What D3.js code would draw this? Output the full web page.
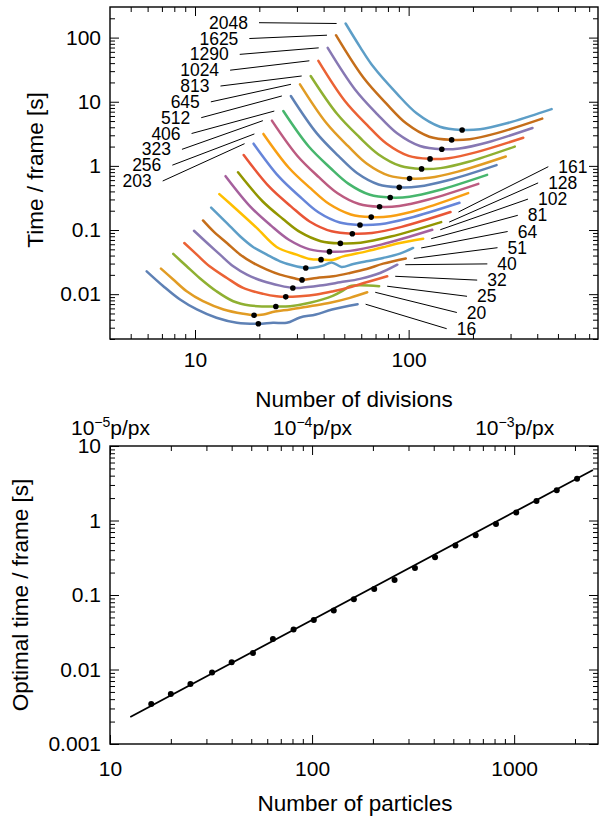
<!DOCTYPE html>
<html><head><meta charset="utf-8">
<script src="https://cdn.jsdelivr.net/npm/d3@7"></script>
<style>body{margin:0;background:#fff}svg text{font-family:"Liberation Sans",Arial,sans-serif;fill:#000}</style>
</head><body><svg id="c" width="602" height="818"></svg>
<script>
// ---------- data ----------
const particleCounts=[16,20,25,32,40,51,64,81,102,128,161,203,256,323,406,512,645,813,1024,1290,1625,2048];
const palette=["#5E81B5","#E19C24","#8FB032","#EB6235","#8778B3","#C56E1A","#5D9EC7","#FFBF00","#A5609D","#929600","#E95536","#6685D9","#F89F13","#BC5B80","#47B66D"];

const div16=[5.94,7.11,8.51,10.2,12.6,15.7,19.8,23.2,26.9,31.0,36.8,43.8,57.7];
const time16=[0.0227,0.0133,0.00824,0.00577,0.00428,0.00358,0.00345,0.00358,0.00358,0.00433,0.00482,0.00577,0.00697];
const div20=[6.93,7.91,9.14,10.9,13.6,16.8,18.9,20.9,23.7,27.9,34.5,42.9,53.1,64.0];
const time20=[0.0250,0.0169,0.0111,0.00776,0.00577,0.00494,0.0047,0.00482,0.00536,0.00577,0.00649,0.00733,0.00875,0.0107];
const div25=[7.91,9.14,10.5,12.6,15.1,18.1,23.9,27.9,34.5,44.4,49.4,53.1,72.8];
const time25=[0.0424,0.0272,0.0179,0.0111,0.00776,0.00665,0.00641,0.00649,0.00733,0.0095,0.0114,0.0133,0.0133];
const div32=[8.91,10.2,11.7,14.1,16.8,20.9,24.1,26.6,31.0,37.1,44.4,53.1,63.5,79.4];
const time32=[0.0628,0.0413,0.0272,0.0179,0.0125,0.0101,0.00927,0.00908,0.00927,0.00986,0.0111,0.0128,0.0153,0.0190];
const div40=[9.89,11.4,13.1,15.1,17.5,20.9,25.0,28.7,31.0,38.5,47.8,59.2,73.5,88.5];
const time40=[0.0975,0.0628,0.0413,0.0272,0.0202,0.0159,0.0136,0.0125,0.0125,0.0136,0.0153,0.0173,0.0214,0.0288];
const div51=[10.9,12.2,14.1,16.3,18.7,21.7,25.0,28.8,31.7,37.1,44.4,53.1,63.5,76.0,97.0];
const time51=[0.141,0.0951,0.0628,0.0413,0.0307,0.0242,0.0202,0.0179,0.0167,0.0179,0.0190,0.0214,0.0247,0.0299,0.0361];
const div64=[11.9,13.1,14.6,16.3,18.7,21.7,25.0,28.8,33.0,35.8,39.8,43.6,48.5,55.1,63.5,76.0,91.0,105];
const time64=[0.224,0.163,0.114,0.0794,0.0545,0.0413,0.0325,0.0279,0.0256,0.0258,0.0279,0.0313,0.0266,0.0296,0.0325,0.0367,0.0428,0.0525];
const div81=[13.0,15.7,19.5,24.1,29.9,34.5,38.9,44.4,49.4,63.5,78.9,91.0,117];
const time81=[0.363,0.207,0.107,0.0545,0.0413,0.0354,0.0345,0.0345,0.0388,0.0465,0.0556,0.0628,0.0733];
const div102=[13.9,18.2,22.7,27.5,34.4,42.6,53.2,74.3,129];
const time102=[0.692,0.230,0.117,0.0705,0.050,0.046,0.0473,0.0592,0.101];
const div128=[15.9,20.7,25.8,31.1,38.8,47.9,59.6,82.6,142];
const time128=[0.793,0.281,0.149,0.0925,0.067,0.0619,0.0635,0.0791,0.133];
const div161=[16.9,22.3,28.2,34.4,43.6,54.5,67.3,92.7,157];
const time161=[1.48,0.469,0.232,0.136,0.0955,0.0875,0.0897,0.112,0.191];
const div203=[18.8,24.7,31.1,37.8,47.6,59.2,73.3,101,173];
const time203=[2.22,0.678,0.327,0.189,0.131,0.120,0.123,0.154,0.266];
const div256=[20.9,27.5,34.8,42.5,53.6,66.8,82.4,113,190];
const time256=[3.15,0.936,0.445,0.254,0.175,0.159,0.164,0.209,0.376];
const div323=[22.9,30.1,38.0,46.5,58.6,73.1,90.4,124,212];
const time323=[5.07,1.44,0.667,0.374,0.254,0.230,0.237,0.299,0.525];
const div406=[25.9,34.0,42.9,52.4,65.9,82.0,101,138,233];
const time406=[7.16,2.02,0.936,0.524,0.354,0.321,0.330,0.416,0.724];
const div512=[28.1,37.1,46.9,57.3,72.3,90.4,111,153,258];
const time512=[12.3,3.24,1.43,0.774,0.513,0.463,0.476,0.597,1.03];
const div645=[31.0,41.1,52.1,63.8,80.9,101,125,170,285];
const time645=[18.7,4.71,2.03,1.08,0.705,0.635,0.652,0.815,1.40];
const div813=[34.8,46.2,58.7,72.3,91.8,115,141,191,314];
const time813=[25.2,6.49,2.82,1.51,0.995,0.897,0.923,1.16,2.00];
const div1024=[37.8,50.2,64.0,78.7,100,126,154,208,344];
const time1024=[43.5,10.4,4.32,2.23,1.43,1.285,1.32,1.64,2.75];
const div1290=[41.8,56.0,71.4,88.3,113,143,173,233,380];
const time1290=[69.2,15.7,6.37,3.22,2.04,1.82,1.87,2.32,3.90];
const div1625=[45.7,61.5,78.9,97.7,125,159,193,259,422];
const time1625=[109,23.6,9.25,4.57,2.85,2.54,2.60,3.24,5.45];
const div2048=[50.7,59.2,68.4,87.9,109,140,178,216,288,371,467];
const time2048=[166,71.8,35.0,13.5,6.61,4.08,3.63,3.72,4.61,5.98,7.69];

const optimalDivisions=[19.8,18.9,23.9,26.6,28.7,31.7,33.0,38.9,42.6,47.9,54.5,59.2,66.8,73.1,82.0,90.4,101,115,126,143,159,178];
const optimalTime=[0.00345,0.0047,0.00641,0.00908,0.0125,0.0167,0.0256,0.0345,0.046,0.0619,0.0875,0.120,0.159,0.230,0.321,0.463,0.635,0.897,1.285,1.82,2.54,3.63];
const fitParticles=[12.6,2455];
const fitTime=[0.0023,4.77];

const topXMajor=[10,100];
const topXMinor=[5,6,7,8,9,20,30,40,50,60,70,80,90,200,300,400,500,600,700];
const topYMajor=[0.01,0.1,1,10,100];
const topYMinor=[0.002,0.003,0.004,0.005,0.006,0.007,0.008,0.009,0.02,0.03,0.04,0.05,0.06,0.07,0.08,0.09,0.2,0.3,0.4,0.5,0.6,0.7,0.8,0.9,2,3,4,5,6,7,8,9,20,30,40,50,60,70,80,90,200];
const botXMajor=[10,100,1000];
const botXMinor=[20,30,40,50,60,70,80,90,200,300,400,500,600,700,800,900,2000];
const botYMajor=[0.001,0.01,0.1,1,10];
const botYMinor=[0.002,0.003,0.004,0.005,0.006,0.007,0.008,0.009,0.02,0.03,0.04,0.05,0.06,0.07,0.08,0.09,0.2,0.3,0.4,0.5,0.6,0.7,0.8,0.9,2,3,4,5,6,7,8,9];
const densityMajor=[1e-5,1e-4,1e-3];
const densityMinor=[2e-5,3e-5,4e-5,5e-5,6e-5,7e-5,8e-5,9e-5,2e-4,3e-4,4e-4,5e-4,6e-4,7e-4,8e-4,9e-4,2e-3];
const densityExponents=["−5","−4","−3"];

const divArrays=[div16,div20,div25,div32,div40,div51,div64,div81,div102,div128,div161,div203,div256,div323,div406,div512,div645,div813,div1024,div1290,div1625,div2048];
const timeArrays=[time16,time20,time25,time32,time40,time51,time64,time81,time102,time128,time161,time203,time256,time323,time406,time512,time645,time813,time1024,time1290,time1625,time2048];
const curves=particleCounts.map((n,i)=>({n,color:palette[i%palette.length],pts:divArrays[i].map((d,j)=>[d,timeArrays[i][j]])}));

// ---------- drawing ----------
const svg=d3.select('#c');
const FONT='"Liberation Sans",Arial,sans-serif';

function axisPair(g,gen,scale,majors,minors,fmt,pad){
  const a=g.append('g').call(gen(scale).tickValues(majors).tickSizeInner(-9).tickSizeOuter(0).tickPadding(pad).tickFormat(fmt));
  const b=g.append('g').call(gen(scale).tickValues(minors).tickSizeInner(-5).tickSizeOuter(0).tickFormat(''));
  [a,b].forEach(s=>{s.select('.domain').remove();s.attr('font-family',FONT).attr('font-size',21);s.selectAll('line').attr('stroke','#000').attr('stroke-width',1);});
  return a;
}
const numFmt=v=>String(v);

// top chart
const xT=d3.scaleLog().domain([4,770]).range([110,598]);
const yT=d3.scaleLog().domain([0.002,300]).range([339,7]);
const topG=svg.append('g');
axisPair(topG.append('g').attr('transform','translate(0,339)'),d3.axisBottom,xT,topXMajor,topXMinor,numFmt,13);
axisPair(topG.append('g').attr('transform','translate(0,7)'),d3.axisTop,xT,topXMajor,topXMinor,()=>'',4);
axisPair(topG.append('g').attr('transform','translate(110,0)'),d3.axisLeft,yT,topYMajor,topYMinor,numFmt,9);
axisPair(topG.append('g').attr('transform','translate(598,0)'),d3.axisRight,yT,topYMajor,topYMinor,()=>'',4);
topG.append('rect').attr('x',110).attr('y',7).attr('width',488).attr('height',332).attr('fill','none').attr('stroke','#000').attr('stroke-width',1.4);

const line=d3.line().x(d=>xT(d[0])).y(d=>yT(d[1])).curve(d3.curveCatmullRom.alpha(0.5));
topG.append('g').selectAll('path').data(curves).join('path')
  .attr('d',c=>line(c.pts)).attr('fill','none').attr('stroke',c=>c.color).attr('stroke-width',2.5).attr('stroke-linecap','round').attr('stroke-linejoin','round');
topG.append('g').selectAll('circle').data(optimalDivisions).join('circle')
  .attr('cx',d=>xT(d)).attr('cy',(d,i)=>yT(optimalTime[i])).attr('r',2.8).attr('fill','#000');

// left labels (203 .. 2048) pointing at curve starts
const lab=topG.append('g').attr('font-family',FONT).attr('font-size',17.5);
d3.range(11,22).forEach(i=>{
  const k=21-i, c=curves[i];
  const tx=248-9.63*k, ty=22.7+15.83*k;
  lab.append('text').attr('x',tx).attr('y',ty).attr('dy','0.35em').attr('text-anchor','end').text(c.n);
  const p=c.pts[0];
  lab.append('line').attr('x1',tx+11).attr('y1',ty).attr('x2',xT(p[0])-9).attr('y2',yT(p[1])).attr('stroke','#000').attr('stroke-width',1);
});
// right labels (16 .. 161) pointing at curve ends
d3.range(0,11).forEach(i=>{
  const j=10-i, c=curves[i];
  const tx=558.3-10.16*j, ty=166.7+16.2*j;
  lab.append('text').attr('x',tx).attr('y',ty).attr('dy','0.35em').attr('text-anchor','start').text(c.n);
  const p=c.pts[c.pts.length-1];
  lab.append('line').attr('x1',tx-10).attr('y1',ty).attr('x2',xT(p[0])+8).attr('y2',yT(p[1])).attr('stroke','#000').attr('stroke-width',1);
});
topG.append('text').attr('x',354).attr('y',407).attr('text-anchor','middle').attr('font-size',22.5).text('Number of divisions');
topG.append('text').attr('transform','translate(35,170) rotate(-90)').attr('text-anchor','middle').attr('dominant-baseline','central').attr('font-size',22.5).text('Time / frame [s]');

// bottom chart
const xB=d3.scaleLog().domain([10,2600]).range([110,598]);
const xD=d3.scaleLog().domain([1e-5,2.6e-3]).range([110,598]);
const yB=d3.scaleLog().domain([0.001,10]).range([744,446]);
const botG=svg.append('g');
axisPair(botG.append('g').attr('transform','translate(0,744)'),d3.axisBottom,xB,botXMajor,botXMinor,numFmt,17);
const densAx=axisPair(botG.append('g').attr('transform','translate(0,446)'),d3.axisTop,xD,densityMajor,densityMinor,()=>'x',11);
densAx.selectAll('.tick text').each(function(d,i){
  const t=d3.select(this); t.text(null);
  t.append('tspan').text('10');
  t.append('tspan').attr('dy',-8).attr('font-size',14).text(densityExponents[i]);
  t.append('tspan').attr('dy',8).text('p/px');
});
axisPair(botG.append('g').attr('transform','translate(110,0)'),d3.axisLeft,yB,botYMajor,botYMinor,numFmt,9);
axisPair(botG.append('g').attr('transform','translate(598,0)'),d3.axisRight,yB,botYMajor,botYMinor,()=>'',4);
botG.append('rect').attr('x',110).attr('y',446).attr('width',488).attr('height',298).attr('fill','none').attr('stroke','#000').attr('stroke-width',1.4);
const fitLine=d3.line().x(d=>xB(d[0])).y(d=>yB(d[1]));
botG.append('path').attr('d',fitLine(fitParticles.map((n,i)=>[n,fitTime[i]]))).attr('fill','none').attr('stroke','#000').attr('stroke-width',1.8);
botG.append('g').selectAll('circle').data(particleCounts).join('circle')
  .attr('cx',d=>xB(d)).attr('cy',(d,i)=>yB(optimalTime[i])).attr('r',3).attr('fill','#000');
botG.append('text').attr('x',355).attr('y',811).attr('text-anchor','middle').attr('font-size',22.5).text('Number of particles');
botG.append('text').attr('transform','translate(20,595) rotate(-90)').attr('text-anchor','middle').attr('dominant-baseline','central').attr('font-size',22.5).text('Optimal time / frame [s]');
</script></body></html>
